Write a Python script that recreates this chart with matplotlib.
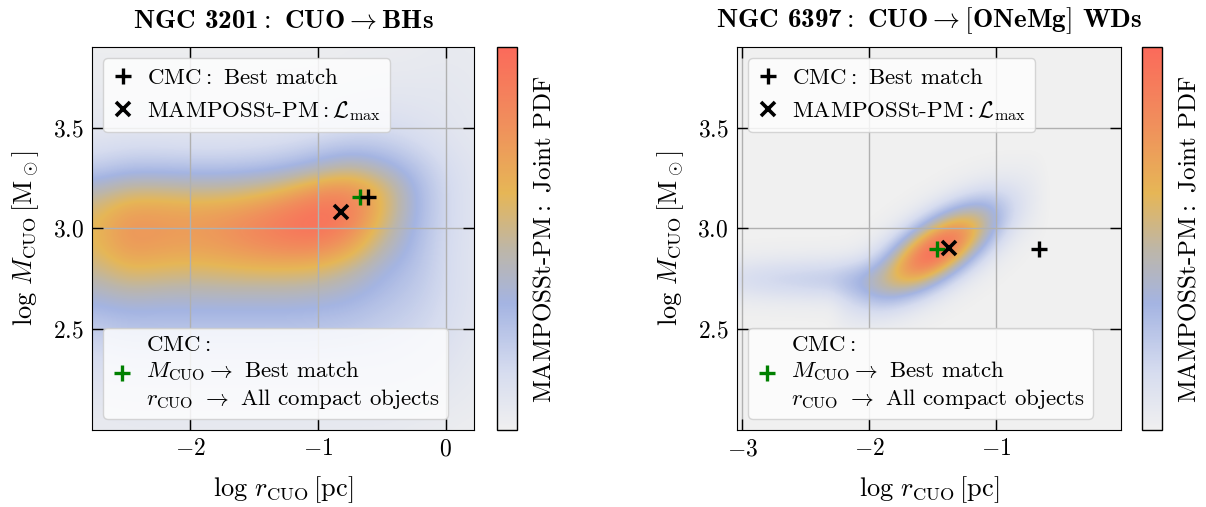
import numpy as np
import matplotlib.pyplot as plt
from matplotlib.colors import LinearSegmentedColormap
from matplotlib.lines import Line2D

plt.rcParams['font.family'] = 'serif'
plt.rcParams['font.serif'] = ['cmr10']
plt.rcParams['mathtext.fontset'] = 'cm'
plt.rcParams['axes.formatter.use_mathtext'] = True

# NGC 3201: joint PDF, rows log M = 2.0 .. 3.9, cols log r = -2.75 .. 0.25
ngc3201_logr = [-2.75, -2.5, -2.25, -2.0, -1.75, -1.5, -1.25, -1.0, -0.75, -0.5, -0.25, 0.0, 0.25]
ngc3201_logm = [2.0, 2.1, 2.2, 2.3, 2.4, 2.5, 2.6, 2.7, 2.8, 2.9, 3.0, 3.1, 3.2, 3.3, 3.4, 3.5, 3.6, 3.7, 3.8, 3.9]
ngc3201_pdf = [
    [0.04, 0.05, 0.05, 0.05, 0.05, 0.05, 0.05, 0.05, 0.05, 0.05, 0.04, 0.03, 0.02],
    [0.06, 0.07, 0.07, 0.07, 0.07, 0.07, 0.07, 0.07, 0.07, 0.07, 0.06, 0.05, 0.03],
    [0.09, 0.10, 0.10, 0.10, 0.10, 0.10, 0.10, 0.10, 0.10, 0.10, 0.09, 0.07, 0.04],
    [0.12, 0.14, 0.14, 0.14, 0.14, 0.14, 0.14, 0.14, 0.14, 0.14, 0.12, 0.09, 0.05],
    [0.16, 0.19, 0.19, 0.19, 0.19, 0.19, 0.19, 0.19, 0.18, 0.17, 0.15, 0.11, 0.06],
    [0.22, 0.26, 0.26, 0.26, 0.26, 0.26, 0.26, 0.25, 0.24, 0.21, 0.18, 0.13, 0.07],
    [0.30, 0.34, 0.33, 0.33, 0.33, 0.33, 0.33, 0.32, 0.30, 0.25, 0.21, 0.14, 0.08],
    [0.40, 0.47, 0.45, 0.44, 0.45, 0.45, 0.45, 0.43, 0.38, 0.30, 0.24, 0.15, 0.08],
    [0.50, 0.62, 0.60, 0.58, 0.60, 0.62, 0.62, 0.60, 0.50, 0.35, 0.27, 0.15, 0.08],
    [0.58, 0.75, 0.72, 0.70, 0.73, 0.78, 0.82, 0.82, 0.70, 0.45, 0.30, 0.15, 0.08],
    [0.60, 0.78, 0.76, 0.74, 0.78, 0.85, 0.93, 0.98, 0.85, 0.55, 0.32, 0.16, 0.08],
    [0.55, 0.70, 0.70, 0.68, 0.70, 0.75, 0.85, 0.95, 0.92, 0.62, 0.34, 0.16, 0.08],
    [0.40, 0.50, 0.50, 0.48, 0.48, 0.52, 0.60, 0.75, 0.80, 0.60, 0.33, 0.16, 0.08],
    [0.22, 0.28, 0.28, 0.27, 0.27, 0.28, 0.32, 0.40, 0.50, 0.40, 0.27, 0.14, 0.08],
    [0.12, 0.15, 0.15, 0.14, 0.14, 0.15, 0.17, 0.22, 0.27, 0.25, 0.18, 0.11, 0.07],
    [0.07, 0.08, 0.08, 0.08, 0.08, 0.08, 0.09, 0.11, 0.14, 0.15, 0.12, 0.09, 0.06],
    [0.05, 0.06, 0.06, 0.06, 0.06, 0.06, 0.06, 0.07, 0.09, 0.10, 0.09, 0.08, 0.06],
    [0.04, 0.04, 0.04, 0.04, 0.04, 0.04, 0.04, 0.05, 0.06, 0.07, 0.07, 0.07, 0.05],
    [0.03, 0.03, 0.03, 0.03, 0.03, 0.03, 0.03, 0.03, 0.04, 0.05, 0.05, 0.06, 0.05],
    [0.02, 0.02, 0.02, 0.02, 0.02, 0.02, 0.02, 0.02, 0.03, 0.03, 0.04, 0.05, 0.04],
]

# NGC 6397: rows log M = 2.50 .. 3.35 (step 0.05), cols log r = -3.0 .. -0.7 (step 0.1); zero elsewhere
ngc6397_logr = [-3.0, -2.9, -2.8, -2.7, -2.6, -2.5, -2.4, -2.3, -2.2, -2.1, -2.0, -1.9,
                -1.8, -1.7, -1.6, -1.5, -1.4, -1.3, -1.2, -1.1, -1.0, -0.9, -0.8, -0.7]
ngc6397_logm = [2.5, 2.55, 2.6, 2.65, 2.7, 2.75, 2.8, 2.85, 2.9, 2.95, 3.0, 3.05, 3.1, 3.15, 3.2, 3.25, 3.3, 3.35]
ngc6397_pdf = [
    [0, 0, 0, 0, 0, 0, 0, 0, .032, .040, .042, .036, .025, .015, .007, .002, 0, 0, 0, 0, 0, 0, 0, 0],
    [.003, .003, .003, .004, .004, .004, .004, .005, .057, .079, .092, .089, .072, .047, .026, .012, .004, .001, 0, 0, 0, 0, 0, 0],
    [.015, .018, .019, .021, .022, .023, .025, .026, .095, .137, .173, .183, .163, .124, .078, .041, .018, .006, .002, 0, 0, 0, 0, 0],
    [.052, .060, .066, .072, .076, .080, .084, .088, .162, .220, .278, .315, .312, .262, .193, .116, .058, .023, .008, .002, .001, 0, 0, 0],
    [.106, .122, .134, .146, .154, .163, .171, .179, .244, .304, .375, .438, .483, .463, .387, .269, .151, .071, .027, .009, .002, .001, 0, 0],
    [.130, .150, .165, .179, .189, .199, .209, .219, .265, .314, .389, .485, .600, .660, .636, .498, .327, .176, .078, .029, .009, .002, 0, 0],
    [.095, .110, .121, .132, .139, .147, .154, .161, .188, .225, .293, .415, .598, .767, .845, .767, .576, .356, .182, .077, .027, .008, .002, 0],
    [.042, .049, .054, .059, .062, .065, .068, .072, .084, .107, .163, .281, .486, .726, .921, .961, .827, .589, .343, .168, .067, .022, .006, 0],
    [.011, .013, .014, .015, .016, .017, .018, .019, .023, .036, .071, .157, .323, .564, .817, .979, .968, .792, .533, .298, .136, .052, .015, .003],
    [.002, .002, .002, .003, .003, .003, .003, .003, .003, .010, .026, .073, .176, .355, .592, .815, .925, .868, .672, .431, .227, .099, .036, .011],
    [0, 0, 0, 0, 0, 0, 0, 0, 0, .002, .008, .028, .079, .182, .350, .552, .720, .776, .690, .508, .308, .155, .064, .022],
    [0, 0, 0, 0, 0, 0, 0, 0, 0, 0, .002, .009, .029, .076, .169, .306, .459, .566, .578, .487, .340, .196, .093, .036],
    [0, 0, 0, 0, 0, 0, 0, 0, 0, 0, 0, .002, .009, .026, .066, .137, .237, .337, .395, .383, .306, .203, .110, .049],
    [0, 0, 0, 0, 0, 0, 0, 0, 0, 0, 0, 0, .002, .007, .021, .051, .101, .163, .221, .245, .224, .171, .107, .055],
    [0, 0, 0, 0, 0, 0, 0, 0, 0, 0, 0, 0, 0, .002, .006, .015, .034, .064, .100, .128, .135, .117, .085, .050],
    [0, 0, 0, 0, 0, 0, 0, 0, 0, 0, 0, 0, 0, 0, 0, .004, .010, .021, .037, .054, .066, .066, .055, .037],
    [0, 0, 0, 0, 0, 0, 0, 0, 0, 0, 0, 0, 0, 0, 0, 0, .003, .005, .011, .019, .026, .030, .029, .022],
    [0, 0, 0, 0, 0, 0, 0, 0, 0, 0, 0, 0, 0, 0, 0, 0, 0, .001, .003, .005, .009, .011, .012, .011],
]

# markers (log r, log M)
ngc3201_cmc_best = (-0.607, 3.157)
ngc3201_cmc_mbest = (-0.672, 3.157)
ngc3201_lmax = (-0.82, 3.083)
ngc6397_cmc_best = (-0.66, 2.897)
ngc6397_cmc_mbest = (-1.465, 2.897)
ngc6397_lmax = (-1.373, 2.904)

cmap = LinearSegmentedColormap.from_list('pdf', [
    (0.00, '#f0f0f0'), (0.15, '#d6dcef'), (0.33, '#a4b4e2'), (0.47, '#bdb6a8'),
    (0.62, '#e6b656'), (0.80, '#f08f5c'), (1.00, '#fb6a5b')])


def extent_of(xs, ys):
    dx = xs[1] - xs[0]
    dy = ys[1] - ys[0]
    return [xs[0] - dx / 2, xs[-1] + dx / 2, ys[0] - dy / 2, ys[-1] + dy / 2]


def style_axes(ax, xlim, xticks):
    ax.set_xlim(*xlim)
    ax.set_ylim(2.0, 3.9)
    ax.set_xticks(xticks)
    ax.set_yticks([2.5, 3.0, 3.5])
    ax.set_facecolor(cmap(0.0))
    ax.grid(True, color='#b0b0b0', lw=1.0)
    ax.tick_params(direction='in', top=True, right=True, length=8, width=1, labelsize=17, pad=6)
    ax.set_xlabel(r'$\log\, r_{\rm CUO}\,[{\rm pc}]$', fontsize=19, labelpad=10)
    ax.set_ylabel(r'$\log\, M_{\rm CUO}\,[{\rm M_\odot}]$', fontsize=19, labelpad=8)


def add_legends(ax):
    h1 = [Line2D([], [], ls='none', marker='+', color='k', ms=11, mew=2.4),
          Line2D([], [], ls='none', marker='x', color='k', ms=10, mew=2.6)]
    leg1 = ax.legend(h1, ['CMC$:$ Best match', r'MAMPOSSt-PM$:\mathcal{L}_{\rm max}$'],
                     loc='upper left', fontsize=16.5, handlelength=0.9, handletextpad=0.6,
                     borderaxespad=0.5, framealpha=0.8, borderpad=0.4, labelspacing=0.5)
    ax.add_artist(leg1)
    h2 = [Line2D([], [], ls='none', marker='+', color='green', ms=11, mew=2.4)]
    ax.legend(h2, ['CMC$:$\n' + r'$M_{\rm CUO} \rightarrow$ Best match' + '\n'
                   + r'$r_{\rm CUO}$ $\rightarrow$ All compact objects'],
              loc='lower left', fontsize=16.5, handlelength=0.9, handletextpad=0.6,
              borderaxespad=0.5, framealpha=0.8, borderpad=0.35)


def add_cbar(fig, im, cax):
    cb = fig.colorbar(im, cax=cax)
    cb.set_ticks([])
    cb.outline.set_linewidth(1.0)
    cb.set_label('MAMPOSSt-PM$:$ Joint PDF', fontsize=18, labelpad=12)


fig = plt.figure(figsize=(12.06, 5.07), dpi=100)
ax1 = fig.add_axes([0.0763, 0.1519, 0.3167, 0.7554])
cax1 = fig.add_axes([0.4121, 0.1519, 0.0166, 0.7554])
ax2 = fig.add_axes([0.6111, 0.1519, 0.3184, 0.7554])
cax2 = fig.add_axes([0.9467, 0.1519, 0.0166, 0.7554])

# left panel
im1 = ax1.imshow(np.array(ngc3201_pdf), origin='lower', extent=extent_of(ngc3201_logr, ngc3201_logm),
                 cmap=cmap, vmin=0, vmax=1, aspect='auto', interpolation='bicubic')
style_axes(ax1, (-2.77, 0.22), [-2, -1, 0])
ax1.plot(*ngc3201_cmc_mbest, ls='none', marker='+', color='green', ms=11, mew=2.4)
ax1.plot(*ngc3201_cmc_best, ls='none', marker='+', color='k', ms=11, mew=2.4)
ax1.plot(*ngc3201_lmax, ls='none', marker='x', color='k', ms=10, mew=2.6)
add_legends(ax1)
ax1.set_title(r'NGC 3201$:$ CUO$\rightarrow$BHs', fontsize=19.5, family='cmb10', pad=14)
add_cbar(fig, im1, cax1)

# right panel (pad zeros on bottom, top and right so the block fades into the background)
pdf2 = np.pad(np.array(ngc6397_pdf, dtype=float), ((2, 2), (0, 2)))
e2 = extent_of(ngc6397_logr, ngc6397_logm)
e2 = [e2[0], e2[1] + 0.2, e2[2] - 0.1, e2[3] + 0.1]
im2 = ax2.imshow(pdf2, origin='lower', extent=e2, cmap=cmap, vmin=0, vmax=1,
                 aspect='auto', interpolation='bicubic')
style_axes(ax2, (-3.04, -0.015), [-3, -2, -1])
ax2.plot(*ngc6397_cmc_mbest, ls='none', marker='+', color='green', ms=11, mew=2.4)
ax2.plot(*ngc6397_cmc_best, ls='none', marker='+', color='k', ms=11, mew=2.4)
ax2.plot(*ngc6397_lmax, ls='none', marker='x', color='k', ms=10, mew=2.6)
add_legends(ax2)
ax2.set_title(r'NGC 6397$:$ CUO$\rightarrow[$ONeMg$]$ WDs', fontsize=19.5, family='cmb10', pad=14)
add_cbar(fig, im2, cax2)

fig.savefig('out.png', dpi=100)
